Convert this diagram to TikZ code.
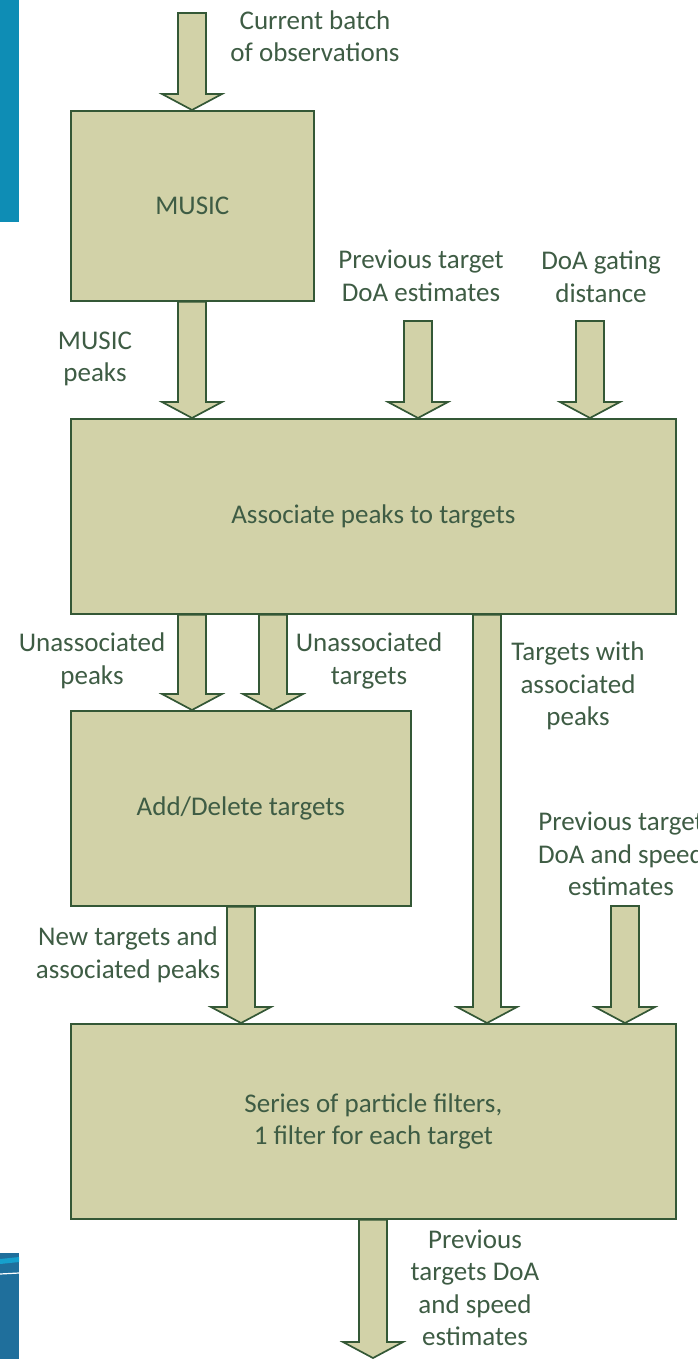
\documentclass[tikz,border=0pt]{standalone}
\usepackage{fontspec}
\setmainfont{Carlito}
\usetikzlibrary{calc}
\definecolor{boxfill}{RGB}{210,210,168}
\definecolor{boxline}{RGB}{52,88,54}
\definecolor{txt}{RGB}{62,92,68}
\definecolor{barblue}{RGB}{14,141,181}
\definecolor{bardark}{RGB}{31,111,156}
\definecolor{barcyan}{RGB}{22,160,205}
\newcommand{\barrow}[2]{%
  \path let \p1=(#1), \p2=(#2) in
    [barrowstyle] (\x1-14pt,\y1) -- (\x1+14pt,\y1) -- (\x1+14pt,\y2+16pt)
    -- (\x1+30pt,\y2+16pt) -- (\x1,\y2) -- (\x1-30pt,\y2+16pt)
    -- (\x1-14pt,\y2+16pt) -- cycle;}
\begin{document}
\begin{tikzpicture}[x=1pt,y=-1pt,
  box/.style={draw=boxline,fill=boxfill,line width=1.7pt,text=txt,
    font=\fontsize{27}{32.5}\selectfont,align=center,anchor=north west},
  lbl/.style={text=txt,font=\fontsize{27}{32.5}\selectfont,align=center,inner sep=0pt},
  barrowstyle/.style={draw=boxline,fill=boxfill,line width=1.7pt,line join=miter}]
\useasboundingbox (0,0) rectangle (697,1359);
% slide decorations
\fill[barblue] (0,0) rectangle (19,222);
\fill[bardark] (0,1253) rectangle (19,1359);
\fill[barcyan] (0,1259) -- (19,1257) -- (19,1262) -- (0,1264) -- cycle;
\draw[white,line width=1.2pt] (0,1274) -- (19,1273);
% boxes
\node[box,minimum width=243pt,minimum height=190pt] (music) at (70,110) {MUSIC};
\node[box,minimum width=605pt,minimum height=195pt] (assoc) at (70,418) {Associate peaks to targets};
\node[box,minimum width=340pt,minimum height=195pt] (adddel) at (70,710) {Add/Delete targets};
\node[box,minimum width=605pt,minimum height=195pt] (series) at (70,1023) {Series of particle filters,\\1 filter for each target};
% coordinates
\coordinate (in1) at (192,13);
\coordinate (c2) at (192,0);
\coordinate (prevdoa) at (418,321);
\coordinate (gate) at (590,321);
\coordinate (c6) at (273,0);
\coordinate (c7) at (487,0);
\coordinate (c8) at (241,0);
\coordinate (prev2) at (625,906);
\coordinate (c10) at (373,0);
\coordinate (out) at (373,1358);
% arrows
\barrow{in1}{music.north -| in1}
\barrow{music.south -| c2}{assoc.north -| c2}
\barrow{prevdoa}{assoc.north -| prevdoa}
\barrow{gate}{assoc.north -| gate}
\barrow{assoc.south -| c2}{adddel.north -| c2}
\barrow{assoc.south -| c6}{adddel.north -| c6}
\barrow{assoc.south -| c7}{series.north -| c7}
\barrow{adddel.south -| c8}{series.north -| c8}
\barrow{prev2}{series.north -| prev2}
\barrow{series.south -| c10}{out}
% labels
\node[lbl] (l1) at (315,36) {Current batch\\of observations};
\node[lbl] (l2) at (421,276) {Previous target\\DoA estimates};
\node[lbl] (l3) at (601,277) {DoA gating\\distance};
\node[lbl] (l4) at (95,359) {MUSIC\\peaks};
\node[lbl] (l5) at (92,661) {Unassociated\\peaks};
\node[lbl] (l6) at (369,661) {Unassociated\\targets};
\node[lbl] (l7) at (578,686) {Targets with\\associated\\peaks};
\node[lbl] (l8) at (621,854) {Previous target\\DoA and speed\\estimates};
\node[lbl] (l9) at (128,955) {New targets and\\associated peaks};
\node[lbl] (l10) at (475,1288) {Previous\\targets DoA\\and speed\\estimates};
\end{tikzpicture}
\end{document}
